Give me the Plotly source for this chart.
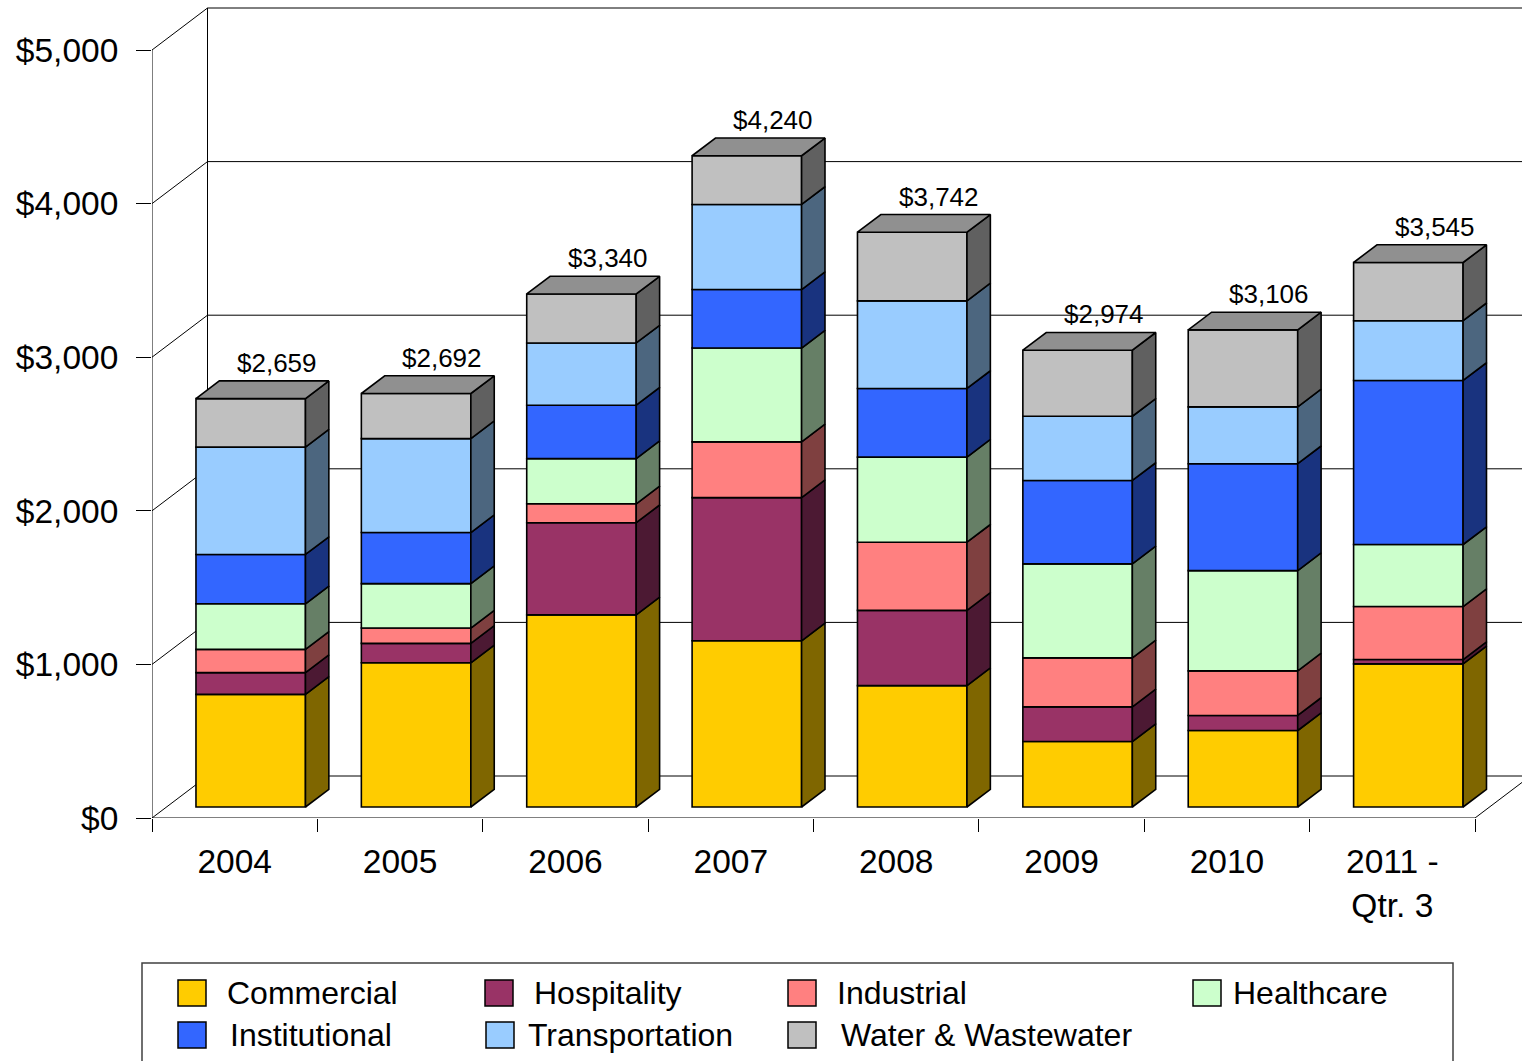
import plotly.graph_objects as go

# ---------------- data ----------------
categories = ["2004", "2005", "2006", "2007", "2008", "2009", "2010", "2011 -<br>Qtr. 3"]
series_names = ["Commercial", "Hospitality", "Industrial", "Healthcare",
                "Institutional", "Transportation", "Water & Wastewater"]
commercial = [733, 939, 1251, 1082, 790, 426, 498, 932]
hospitality = [142, 126, 600, 932, 490, 226, 98, 28]
industrial = [151, 100, 123, 363, 444, 319, 290, 345]
healthcare = [297, 289, 294, 611, 554, 612, 653, 404]
institutional = [321, 333, 348, 381, 447, 543, 696, 1068]
transportation = [699, 611, 405, 554, 570, 418, 370, 389]
water = [316, 294, 319, 317, 447, 430, 501, 379]
y_tick_values = [0, 1000, 2000, 3000, 4000, 5000]
y_tick_labels = ["$0", "$1,000", "$2,000", "$3,000", "$4,000", "$5,000"]

series_values = [commercial, hospitality, industrial, healthcare,
                 institutional, transportation, water]

# ---------------- style ----------------
front_colors = ["#FFCC00", "#993366", "#FF8080", "#CCFFCC", "#3366FF", "#99CCFF", "#C0C0C0"]


def shade(hexcol, f):
    h = hexcol.lstrip("#")
    r, g, b = (int(h[i:i + 2], 16) for i in (0, 2, 4))
    return "#%02X%02X%02X" % (int(r * f), int(g * f), int(b * f))


side_colors = [shade(c, 0.5) for c in front_colors]
top_color = shade(front_colors[-1], 0.75)

FONT = "Liberation Sans, Arial, sans-serif"
W, H = 1522, 1061
ML, MR, MT, MB = 152, 0, 6, 243
PW, PH = W - ML - MR, H - MT - MB
PX_PER_CAT = 165.375
PX_PER_UNIT = 0.1536
XMAX = PW / PX_PER_CAT
YMAX = PH / PX_PER_UNIT

DXW = 55.5 / PX_PER_CAT        # wall depth (x, data units)
DYW = 42.0 / PX_PER_UNIT       # wall depth (y, data units)
D1, D2 = 11.0 / 42.0, 28.7 / 42.0
BAR_W = 109.5 / PX_PER_CAT
BAR_SHIFT = 1.5 / PX_PER_CAT
N = len(categories)

fig = go.Figure()

# front faces (bars) and side faces
cum = [0.0] * N
side_traces = []
ddx, ddy = (D2 - D1) * DXW, (D2 - D1) * DYW
for s, (name, vals) in enumerate(zip(series_names, series_values)):
    xs = [k + 0.5 + D1 * DXW + BAR_SHIFT for k in range(N)]
    bases = [D1 * DYW + cum[k] for k in range(N)]
    fig.add_trace(go.Bar(
        x=xs, y=vals, base=bases, width=BAR_W, name=name,
        marker=dict(color=front_colors[s], line=dict(color="black", width=1.6)),
        showlegend=False, hoverinfo="skip"))
    px, py = [], []
    for k in range(N):
        xr = xs[k] + BAR_W / 2
        yb = bases[k]
        yt = bases[k] + vals[k]
        px += [xr, xr + ddx, xr + ddx, xr, xr, None]
        py += [yb, yb + ddy, yt + ddy, yt, yb, None]
    side_traces.append(go.Scatter(
        x=px, y=py, mode="lines", fill="toself", fillcolor=side_colors[s],
        line=dict(color="black", width=1.6), showlegend=False, hoverinfo="skip"))
    for k in range(N):
        cum[k] += vals[k]

for t in side_traces:
    fig.add_trace(t)

# top faces
tx, ty = [], []
for k in range(N):
    xl = k + 0.5 + D1 * DXW + BAR_SHIFT - BAR_W / 2
    xr = xl + BAR_W
    yt = D1 * DYW + cum[k]
    tx += [xl, xl + ddx, xr + ddx, xr, xl, None]
    ty += [yt, yt + ddy, yt + ddy, yt, yt, None]
fig.add_trace(go.Scatter(x=tx, y=ty, mode="lines", fill="toself", fillcolor=top_color,
                         line=dict(color="black", width=1.6), showlegend=False, hoverinfo="skip"))

# data labels (totals)
annotations = []
for k in range(N):
    annotations.append(dict(
        x=k + 0.5 + D2 * DXW + BAR_SHIFT, y=cum[k] + D2 * DYW, xref="x", yref="y",
        text="${:,}".format(int(cum[k])), showarrow=False, yshift=18, xshift=3,
        xanchor="center", yanchor="middle", font=dict(family=FONT, size=26, color="black")))

# walls / grid
shapes = []
line_k = dict(color="black", width=1)
for v in y_tick_values:
    shapes.append(dict(type="line", xref="x", yref="y", x0=DXW, x1=XMAX, y0=v + DYW, y1=v + DYW,
                       line=line_k, layer="below"))
    shapes.append(dict(type="line", xref="x", yref="y", x0=0, x1=DXW, y0=v, y1=v + DYW,
                       line=line_k, layer="below"))
shapes.append(dict(type="line", xref="x", yref="y", x0=DXW, x1=DXW, y0=DYW,
                   y1=y_tick_values[-1] + DYW, line=line_k, layer="below"))
shapes.append(dict(type="line", xref="x", yref="y", x0=0, x1=0, y0=0,
                   y1=y_tick_values[-1], line=line_k, layer="below"))
shapes.append(dict(type="line", xref="x", yref="y", x0=0, x1=N, y0=0, y1=0,
                   line=line_k, layer="below"))
shapes.append(dict(type="line", xref="x", yref="y", x0=N, x1=N + DXW, y0=0, y1=DYW,
                   line=line_k, layer="below"))


# legend (manual, Excel-like)
def pxx(x):
    return (x - ML) / PW


def pxy(y):
    return (MT + PH - y) / PH


shapes.append(dict(type="rect", xref="paper", yref="paper", x0=pxx(142), x1=pxx(1453),
                   y0=pxy(1075), y1=pxy(963), line=dict(color="#404040", width=1.5),
                   fillcolor="rgba(0,0,0,0)"))
legend_pos = [  # (square_left, text_left, row_center)
    (178, 225, 993), (485, 532, 993), (788, 835, 993), (1193, 1231, 993),
    (178, 228, 1035), (486, 526, 1035), (788, 839, 1035)]
for s, (sx, tx0, cy) in enumerate(legend_pos):
    shapes.append(dict(type="rect", xref="paper", yref="paper", x0=pxx(sx), x1=pxx(sx + 28),
                       y0=pxy(cy + 13), y1=pxy(cy - 13), fillcolor=front_colors[s],
                       line=dict(color="black", width=1.5)))
    annotations.append(dict(x=pxx(tx0), y=pxy(cy), xref="paper", yref="paper",
                            text=series_names[s], showarrow=False, xanchor="left",
                            yanchor="middle", font=dict(family=FONT, size=32, color="black")))

fig.update_layout(
    width=W, height=H, margin=dict(l=ML, r=MR, t=MT, b=MB, pad=0),
    paper_bgcolor="white", plot_bgcolor="white", barmode="overlay",
    showlegend=False, shapes=shapes, annotations=annotations,
    xaxis=dict(range=[0, XMAX], showgrid=False, zeroline=False, showline=False,
               tickmode="array", tickvals=[k + 0.5 for k in range(N)], ticktext=categories,
               ticks="outside", ticklen=14, tickcolor="rgba(0,0,0,0)",
               tickfont=dict(family=FONT, size=33.5, color="black"),
               minor=dict(tickmode="array", tickvals=list(range(N + 1)), ticks="outside",
                          ticklen=13, tickcolor="black", tickwidth=1)),
    yaxis=dict(range=[0, YMAX], showgrid=False, zeroline=False, showline=False,
               tickmode="array", tickvals=y_tick_values, ticktext=y_tick_labels,
               ticks="outside", ticklen=15, tickcolor="black", tickwidth=1,
               ticklabelstandoff=11,
               tickfont=dict(family=FONT, size=33.5, color="black")),
)

fig.write_html("out.html")
